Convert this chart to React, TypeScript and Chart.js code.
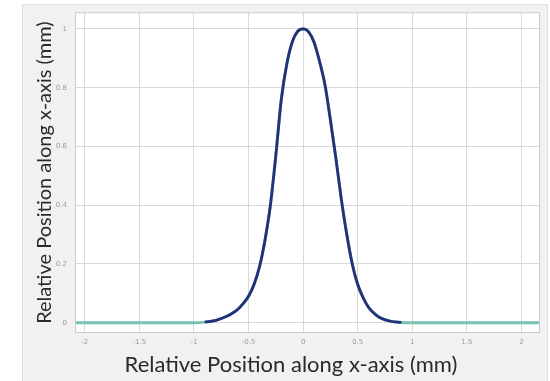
import React, { useEffect, useRef } from "react";
import { Chart, registerables } from "chart.js";

Chart.register(...registerables);

// Relative position (mm) along x-axis
const POS_X = [
  -2.09, -1.5, -1.0, -0.9, -0.8, -0.7, -0.65, -0.6, -0.55, -0.5, -0.45, -0.4, -0.35, -0.3, -0.25,
  -0.2, -0.15, -0.1, -0.05, 0, 0.05, 0.1, 0.15, 0.2, 0.25, 0.3, 0.35, 0.4, 0.45, 0.5, 0.55, 0.6,
  0.65, 0.7, 0.8, 0.9, 1.0, 1.5, 2.17,
];
// Normalised profile values
const PROFILE = [
  0, 0, 0, 0.002, 0.008, 0.022, 0.032, 0.045, 0.065, 0.09, 0.13, 0.19, 0.28, 0.4, 0.57,
  0.76, 0.88, 0.955, 0.992, 1.0, 0.99, 0.955, 0.89, 0.81, 0.69, 0.56, 0.42, 0.3, 0.2, 0.13, 0.085, 0.052,
  0.032, 0.018, 0.005, 0.001, 0, 0, 0,
];
const X_TICKS = [-2, -1.5, -1, -0.5, 0, 0.5, 1, 1.5, 2];
const Y_TICKS = [0, 0.2, 0.4, 0.6, 0.8, 1];
const X_TITLE = "Relative Position along x-axis (mm)";
const Y_TITLE = "Relative Position along x-axis (mm)";

const TITLE_FONT = "Lato, 'Open Sans', sans-serif";

export default function App() {
  const ref = useRef<HTMLCanvasElement | null>(null);

  useEffect(() => {
    document.body.style.margin = "0";
    const canvas = ref.current;
    if (!canvas) return;

    const all = POS_X.map((x, i) => ({ x, y: PROFILE[i] }));
    const core = all.filter((p) => Math.abs(p.x) <= 0.9);

    const panelPlugin = {
      id: "panel",
      beforeDraw(chart: any) {
        const { ctx, chartArea, width, height } = chart;
        ctx.save();
        ctx.fillStyle = "#ffffff";
        ctx.fillRect(0, 0, width, height);
        ctx.fillStyle = "#f1f1f1";
        ctx.fillRect(22, 4, width - 24, height - 4);
        ctx.strokeStyle = "#e0e0e0";
        ctx.lineWidth = 1;
        ctx.strokeRect(22.5, 4.5, width - 25, height - 4);
        ctx.fillStyle = "#ffffff";
        ctx.fillRect(chartArea.left, chartArea.top, chartArea.right - chartArea.left, chartArea.bottom - chartArea.top);
        ctx.restore();
      },
      afterDraw(chart: any) {
        const { ctx, chartArea } = chart;
        ctx.save();
        ctx.strokeStyle = "#c9c9c9";
        ctx.lineWidth = 1;
        ctx.strokeRect(chartArea.left + 0.5, chartArea.top + 0.5, chartArea.right - chartArea.left - 1, chartArea.bottom - chartArea.top - 1);
        ctx.fillStyle = "#2a2a2a";
        ctx.font = `22px ${TITLE_FONT}`;
        ctx.textAlign = "center";
        ctx.textBaseline = "middle";
        ctx.fillText(X_TITLE, 291, 365);
        ctx.restore();
      },
    };

    const chart = new Chart(canvas, {
      type: "line",
      data: {
        datasets: [
          {
            label: "profile",
            data: core,
            borderColor: "#25307a",
            borderWidth: 2.8,
            pointRadius: 0,
            cubicInterpolationMode: "monotone",
            fill: false,
          },
          {
            label: "fit",
            data: all,
            borderColor: "#74c2b4",
            borderWidth: 3,
            pointRadius: 0,
            cubicInterpolationMode: "monotone",
            fill: false,
          },
        ],
      },
      options: {
        animation: false,
        responsive: false,
        layout: { padding: { left: 22, right: 10, top: 6, bottom: 0 } },
        plugins: { legend: { display: false }, tooltip: { enabled: false } },
        scales: {
          x: {
            type: "linear",
            min: -2.09,
            max: 2.17,
            afterBuildTicks: (s: any) => {
              s.ticks = X_TICKS.map((v) => ({ value: v }));
            },
            afterFit: (s: any) => {
              s.height = 48;
            },
            grid: { color: "#d9d9d9", drawTicks: false },
            border: { display: false },
            ticks: {
              padding: 5,
              color: "#9a9a9a",
              font: { size: 7, family: "'DejaVu Sans', sans-serif" },
              maxRotation: 0,
              autoSkip: false,
              callback: (v: any) => String(v),
            },
          },
          y: {
            type: "linear",
            min: -0.035,
            max: 1.057,
            afterBuildTicks: (s: any) => {
              s.ticks = Y_TICKS.map((v) => ({ value: v }));
            },
            afterFit: (s: any) => {
              s.width = 53;
            },
            grid: { color: "#d9d9d9", drawTicks: false },
            border: { display: false },
            title: {
              display: true,
              text: Y_TITLE,
              color: "#2a2a2a",
              font: { size: 20, family: TITLE_FONT },
              padding: { top: 11, bottom: 0 },
            },
            ticks: {
              padding: 8,
              color: "#9a9a9a",
              font: { size: 7, family: "'DejaVu Sans', sans-serif" },
              autoSkip: false,
              callback: (v: any) => String(v),
            },
          },
        },
      },
      plugins: [panelPlugin],
    });

    return () => chart.destroy();
  }, []);

  return (
    <div style={{ width: 550, height: 381 }}>
      <canvas ref={ref} width={550} height={381} />
    </div>
  );
}
